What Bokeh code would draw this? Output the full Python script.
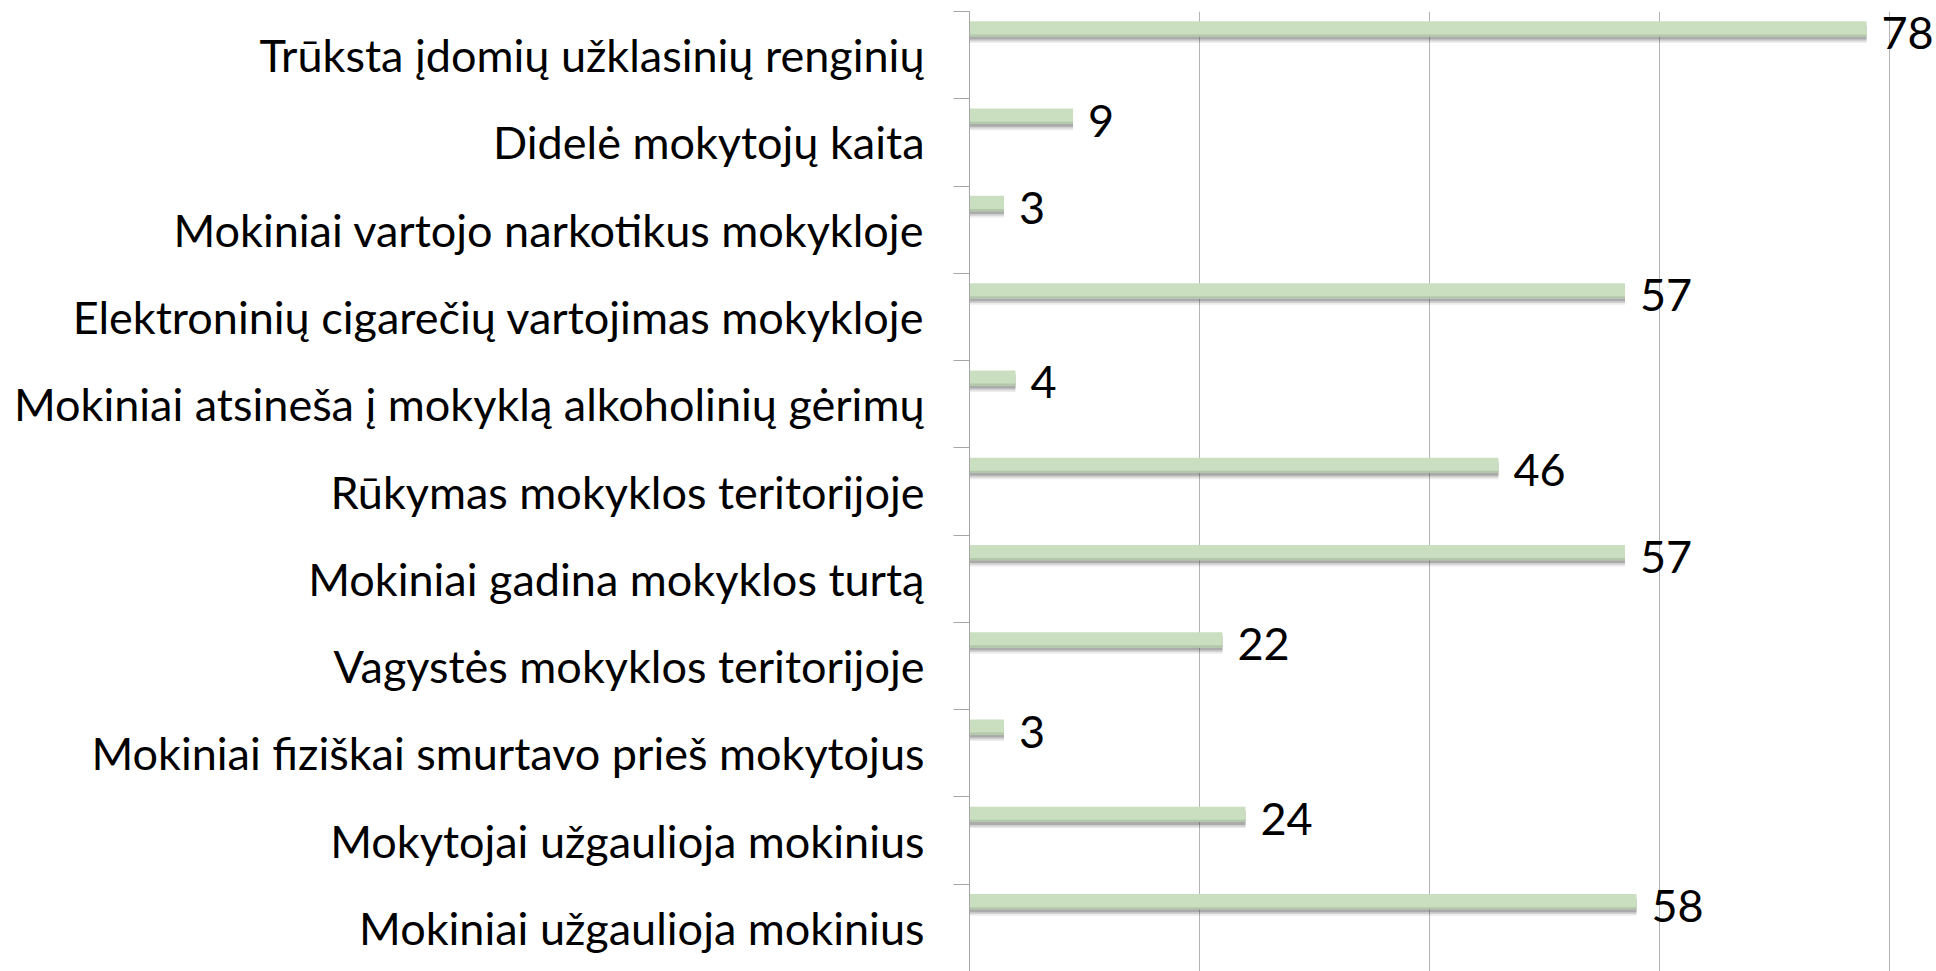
from bokeh.plotting import figure
from bokeh.models import (Range1d, LinearAxis, FixedTicker, Grid, ColumnDataSource,
                          CustomJSTickFormatter)
from bokeh.core.properties import value
from bokeh.embed import file_html
from bokeh.resources import INLINE

# ---- data (top to bottom as in the chart) ----
categories = [
    "Trūksta įdomių užklasinių renginių",
    "Didelė mokytojų kaita",
    "Mokiniai vartojo narkotikus mokykloje",
    "Elektroninių cigarečių vartojimas mokykloje",
    "Mokiniai atsineša į mokyklą alkoholinių gėrimų",
    "Rūkymas mokyklos teritorijoje",
    "Mokiniai gadina mokyklos turtą",
    "Vagystės mokyklos teritorijoje",
    "Mokiniai fiziškai smurtavo prieš mokytojus",
    "Mokytojai užgaulioja mokinius",
    "Mokiniai užgaulioja mokinius",
]
values = [78, 9, 3, 57, 4, 46, 57, 22, 3, 24, 58]
grid_ticks = [20, 40, 60, 80]

FONT = "Lato"
FS = "45px"

n = len(categories)
centers = [n - 0.5 - i for i in range(n)]          # band centres, first category at top
BAR_OFF = 0.3                                       # bars sit in upper part of each band

src = ColumnDataSource(dict(
    cat=categories, val=values, lab=[str(v) for v in values],
    ybar=[c + BAR_OFF for c in centers],
    ysh1=[c + BAR_OFF - 0.06 for c in centers],
    ysh2=[c + BAR_OFF - 0.05 for c in centers],
    ysh3=[c + BAR_OFF - 0.04 for c in centers],
    yedge=[c + BAR_OFF - 0.075 for c in centers],
    ylab=[c + BAR_OFF - 0.05 for c in centers],
))

W, H = 1936, 971
LEFT = 969
p = figure(width=W, height=H, output_backend="svg", toolbar_location=None,
           y_range=Range1d(0, n), x_range=Range1d(0, (W - LEFT) / 11.5),
           x_axis_location=None, y_axis_location=None,
           min_border_left=LEFT, min_border_right=0, min_border_top=11, min_border_bottom=0)
p.outline_line_color = None
p.background_fill_color = "white"
for g in p.grid:
    g.visible = False

# vertical gridlines
p.add_layout(Grid(dimension=0, ticker=FixedTicker(ticks=grid_ticks),
                  grid_line_color="#b4b4b4", grid_line_width=1))

# inner axis: line + ticks at band boundaries
tick_axis = LinearAxis(ticker=FixedTicker(ticks=list(range(n + 1))),
                       axis_line_color="#a6a6a6", axis_line_width=1,
                       major_tick_line_color="#a6a6a6", major_tick_out=16, major_tick_in=0,
                       minor_tick_line_color=None, major_label_text_font_size="0px",
                       major_label_standoff=0,
                       formatter=CustomJSTickFormatter(code="return ''"))
p.add_layout(tick_axis, "left")

# outer axis: category labels at band centres
cat_axis = LinearAxis(ticker=FixedTicker(ticks=centers),
                      major_label_overrides={c: lab for c, lab in zip(centers, categories)},
                      axis_line_color=None, major_tick_line_color=None, minor_tick_line_color=None,
                      major_label_text_font=FONT, major_label_text_font_size=FS,
                      major_label_text_color="#000000", major_label_standoff=23)
p.add_layout(cat_axis, "left")

# bar shadows (soft, layered)
for col, h, a in [("ysh1", 0.20, 0.10), ("ysh2", 0.18, 0.16), ("ysh3", 0.16, 0.26)]:
    p.hbar(y=col, right="val", left=0, height=h, source=src,
           fill_color="#404040", fill_alpha=a, line_color=None)

# bars
p.hbar(y="ybar", right="val", left=0, height=0.175, source=src,
       fill_color="#c9dfc0", line_color=None)
p.hbar(y="yedge", right="val", left=0, height=0.025, source=src,
       fill_color="#b3c8ab", line_color=None)

# value labels
p.text(x="val", y="ylab", text="lab", source=src,
       x_offset=15, text_baseline="middle", text_align="left",
       text_font=value(FONT), text_font_size=FS, text_color="#000000")

open("out.html", "w").write(file_html(p, INLINE))
